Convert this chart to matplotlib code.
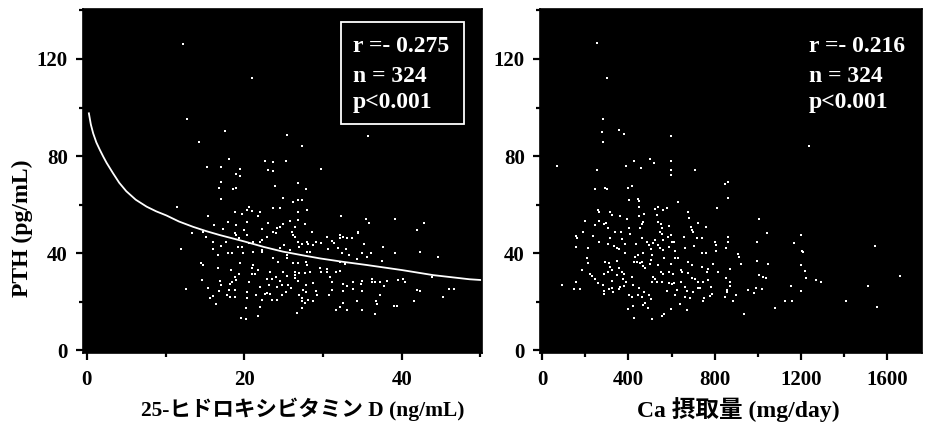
import numpy as np
import matplotlib.pyplot as plt
from matplotlib.patches import Rectangle
from matplotlib.ticker import MultipleLocator

plt.rcParams['font.family'] = ['Liberation Serif', 'Noto Sans CJK JP']
plt.rcParams['font.weight'] = 'bold'

# 25(OH)D (ng/mL) vs PTH (pg/mL)
vitd = [12.2, 21.0, 12.7, 17.5, 25.4, 14.3, 27.3, 18.0, 22.6, 23.6, 25.3, 15.2, 17.1, 19.4, 23.0, 23.7,
        19.0, 19.4, 35.7, 29.8, 17.1, 16.8, 18.5, 19.0, 26.8, 23.9, 27.8, 17.1, 24.9, 26.2, 26.8, 27.3,
        11.4, 20.6, 20.4, 21.0, 23.6, 24.5, 18.8, 22.0, 19.7, 27.9, 26.8, 15.4, 21.7, 26.8, 25.8, 17.9,
        20.4, 16.1, 19.0, 23.0, 24.9, 24.5, 24.1, 26.4, 27.7, 17.3, 22.2, 19.9, 26.0, 26.2, 26.4, 28.6,
        13.3, 14.7, 23.6, 24.0, 15.1, 18.8, 19.0, 20.4, 22.9, 19.3, 16.0, 17.7, 22.3, 22.0, 21.1, 20.6,
        26.8, 27.3, 27.0, 27.9, 28.1, 28.7, 29.1, 17.1, 19.2, 19.7, 24.5, 25.1, 22.3, 22.2, 16.0, 11.9,
        21.1, 25.8, 17.9, 18.4, 19.8, 25.4, 25.4, 27.9, 28.3, 16.6, 23.6, 26.2, 26.8, 27.8, 27.9, 19.4,
        21.1, 21.0, 14.5, 14.7, 24.3, 16.6, 21.7, 18.3, 23.2, 24.9, 28.4, 26.5, 26.5, 26.5, 27.0, 27.7,
        19.3, 21.0, 21.3, 18.8, 24.0, 25.4, 14.6, 20.6, 16.9, 18.4, 18.2, 19.0, 22.9, 23.5, 24.5, 26.8,
        28.7, 17.1, 22.0, 23.1, 24.1, 24.8, 25.5, 25.9, 27.8, 12.6, 15.4, 16.8, 18.0, 18.8, 27.4, 27.8,
        20.3, 25.3, 29.1, 22.9, 23.2, 22.6, 16.0, 17.8, 18.2, 18.8, 21.5, 24.8, 26.9, 27.3, 27.3, 29.2,
        15.6, 20.4, 22.2, 23.5, 24.1, 28.1, 28.7, 16.4, 22.0, 27.7, 27.3, 20.2, 26.7, 21.8, 19.6, 20.2,
        32.3, 35.4, 35.8, 39.2, 42.8, 41.9, 34.4, 34.5, 30.5, 32.1, 32.1, 32.6, 33.1, 33.7, 29.8, 31.1,
        31.4, 35.2, 37.6, 31.9, 32.9, 30.6, 42.3, 39.2, 32.4, 33.3, 35.0, 35.6, 36.1, 44.6, 34.3, 37.5,
        32.8, 32.1, 29.6, 30.5, 32.1, 31.7, 29.8, 30.5, 30.9, 43.9, 31.1, 34.9, 33.8, 36.2, 36.6, 36.2,
        37.3, 38.1, 39.5, 40.1, 40.4, 32.5, 33.0, 34.8, 37.8, 41.9, 42.3, 46.0, 46.6, 31.1, 32.5, 33.8,
        34.9, 30.7, 37.2, 45.2, 34.3, 36.7, 41.5, 32.5, 36.8, 39.0, 39.4, 32.1, 31.7, 33.0, 34.9, 36.6]
pth_vitd = [126.2, 112.2, 95.3, 90.3, 88.7, 85.8, 84.1, 78.8, 77.9, 77.5, 77.9, 75.5, 75.5, 74.6, 74.2, 73.8,
            72.6, 71.8, 88.2, 74.6, 69.3, 66.8, 66.4, 66.8, 68.9, 67.6, 66.4, 62.3, 62.7, 61.0, 61.9, 61.9,
            59.0, 59.0, 57.7, 57.3, 58.6, 58.6, 56.9, 56.9, 56.1, 57.7, 56.9, 55.3, 55.3, 53.6, 53.2, 52.8,
            52.8, 51.5, 51.5, 52.4, 52.0, 50.7, 50.3, 50.7, 52.0, 49.9, 49.9, 49.5, 48.7, 47.4, 46.6, 48.7,
            48.2, 48.7, 48.7, 48.2, 46.6, 48.2, 47.4, 47.4, 46.6, 46.2, 44.5, 44.5, 45.4, 44.5, 44.5, 44.1,
            44.5, 43.7, 42.5, 44.5, 43.7, 43.3, 44.5, 42.9, 42.5, 42.5, 42.1, 43.3, 41.2, 40.4, 41.6, 41.6,
            40.4, 41.2, 40.0, 40.0, 40.0, 39.2, 37.9, 40.4, 40.4, 39.2, 37.9, 35.9, 35.9, 36.3, 35.1, 35.9,
            35.1, 33.8, 35.9, 35.1, 36.3, 33.8, 33.0, 33.0, 32.2, 32.2, 32.2, 32.2, 30.9, 29.7, 31.8, 31.8,
            31.3, 31.3, 31.3, 30.1, 30.1, 30.5, 28.9, 28.0, 28.5, 28.0, 27.2, 28.9, 29.3, 29.3, 28.5, 28.5,
            27.6, 26.8, 26.0, 26.8, 26.0, 26.8, 26.8, 25.6, 26.8, 25.2, 25.6, 24.3, 24.7, 24.7, 24.7, 23.9,
            23.9, 23.9, 24.3, 23.5, 23.1, 23.1, 22.3, 22.7, 21.9, 21.9, 22.7, 22.7, 22.7, 21.4, 20.2, 22.7,
            21.4, 21.4, 20.6, 20.6, 20.6, 20.6, 20.2, 19.0, 17.7, 19.4, 17.3, 17.3, 15.3, 14.0, 13.2, 12.8,
            55.3, 54.0, 52.4, 54.0, 52.4, 49.5, 48.7, 48.2, 46.6, 47.4, 46.2, 46.6, 46.2, 46.2, 44.1, 44.9,
            44.1, 43.7, 42.5, 42.1, 41.6, 41.6, 40.4, 40.0, 40.0, 39.2, 40.0, 38.4, 40.0, 38.4, 37.5, 36.7,
            35.5, 36.3, 33.8, 33.4, 32.6, 32.2, 32.2, 32.2, 30.1, 30.1, 28.0, 28.5, 28.0, 29.3, 28.0, 28.0,
            28.0, 28.5, 28.9, 29.3, 28.0, 27.2, 26.4, 27.2, 26.4, 24.7, 24.3, 25.2, 25.2, 24.7, 24.3, 25.2,
            24.3, 22.7, 22.7, 21.9, 20.2, 20.2, 20.2, 19.4, 19.0, 18.1, 18.1, 17.7, 16.5, 16.5, 16.5, 14.8]

# fitted curve
fit_x = [0.25, 0.5, 0.8, 1.2, 1.65, 2.1, 2.5, 3.3, 4.1, 5.0, 6.2, 7.6, 8.8, 10.1, 11.7, 13.5, 15.2,
         16.9, 20.1, 22.5, 24.9, 27.2, 29.6, 32.5, 35.5, 40.0, 44.0, 48.6, 50.0]
fit_y = [97.6, 93.0, 89.3, 85.6, 82.5, 79.6, 77.2, 73.0, 69.0, 65.5, 62.0, 59.1, 57.2, 55.5, 53.0, 50.8, 49.0,
         47.4, 44.7, 42.5, 40.6, 39.2, 37.8, 36.4, 35.1, 33.0, 30.9, 29.2, 28.9]

# Ca intake (mg/day) vs PTH (pg/mL)
ca = [255, 301, 283, 278, 357, 380, 598, 283, 70, 255, 389, 427, 501, 519, 459, 598, 598, 598, 709, 1238,
      246, 292, 301, 399, 417, 848, 403, 445, 450, 630, 450, 524, 538, 561, 580, 811, 260, 264, 315, 325,
      362, 394, 450, 473, 533, 677, 682, 199, 264, 287, 297, 538, 552, 464, 468, 691, 695, 700, 723, 760,
      246, 306, 403, 454, 556, 589, 190, 338, 366, 408, 547, 556, 584, 598, 658, 719, 158, 162, 236, 315,
      371, 464, 487, 524, 515, 561, 603, 612, 663, 742, 802, 807, 158, 213, 264, 306, 334, 348, 357, 385,
      436, 496, 505, 538, 547, 561, 589, 617, 705, 742, 760, 807, 385, 431, 445, 468, 510, 566, 617, 630,
      209, 213, 292, 311, 348, 427, 440, 454, 464, 505, 501, 468, 477, 538, 598, 677, 695, 742, 793, 315,
      325, 357, 185, 371, 380, 770, 765, 816, 223, 232, 287, 306, 348, 552, 561, 589, 607, 644, 649, 677,
      246, 260, 325, 376, 389, 417, 515, 524, 533, 510, 556, 589, 603, 612, 644, 695, 709, 723, 746, 770,
      93, 158, 283, 362, 380, 422, 450, 663, 723, 732, 783, 148, 176, 311, 325, 329, 357, 287, 473, 580,
      626, 672, 700, 287, 403, 417, 445, 464, 496, 617, 663, 686, 788, 779, 505, 746, 751, 468, 477, 399,
      422, 491, 640, 598, 672, 566, 556, 427, 510,
      862, 862, 1006, 862, 1043, 862, 853, 1201, 997, 1168, 909, 913, 1205, 1210, 1544, 997, 923, 1048,
      1201, 872, 1219, 853, 1006, 1025, 1038, 1224, 1270, 1293, 1660, 872, 872, 1154, 1511, 858, 858, 955,
      992, 1020, 983, 1201, 848, 899, 885, 1127, 1159, 1409, 1080, 1553, 936]
pth_ca = [126.6, 112.2, 95.3, 89.9, 90.7, 89.1, 88.2, 85.8, 75.9, 74.2, 75.9, 77.9, 78.8, 77.1, 75.1, 77.9,
          74.2, 72.2, 74.2, 84.1,
          66.4, 66.8, 66.4, 66.8, 67.6, 68.5, 61.9, 62.3, 61.4, 61.0, 59.0, 58.1, 59.0, 57.7, 58.6, 58.6,
          57.7, 56.9, 56.9, 55.7, 55.3, 54.0, 55.3, 56.1, 55.7, 56.9, 54.4, 53.2, 53.2, 52.0, 52.4, 52.8,
          52.0, 52.0, 52.8, 50.7, 49.5, 48.7, 52.4, 50.7, 51.5, 50.3, 50.3, 50.3, 50.3, 51.1, 48.7, 48.7,
          48.7, 47.8, 48.7, 47.8, 46.6, 47.4, 46.6, 46.2, 47.0, 46.2, 47.0, 46.2, 45.8, 46.2, 44.5, 45.4,
          44.1, 45.4, 44.5, 44.5, 42.1, 46.2, 44.5, 43.3, 42.5, 42.1, 44.5, 43.7, 42.9, 42.1, 41.6, 43.7,
          43.7, 43.3, 41.6, 43.3, 42.1, 41.2, 42.5, 40.8, 42.9, 40.0, 40.0, 40.8, 40.0, 38.4, 39.2, 40.0,
          39.2, 37.9, 37.9, 37.9, 37.9, 35.9, 36.3, 35.9, 36.7, 36.3, 36.3, 35.9, 36.3, 37.1, 35.5, 34.6,
          33.8, 35.1, 35.5, 36.3, 35.1, 34.2, 35.5, 34.2, 33.0, 33.8, 33.0, 32.2, 31.3, 33.4, 32.2, 32.2,
          31.3, 30.5, 31.3, 32.2, 30.9, 32.2, 31.3, 32.2, 31.3, 33.0, 32.2, 31.8, 29.3, 27.6, 28.5, 29.3,
          28.0, 30.1, 30.1, 29.3, 28.0, 28.0, 28.0, 27.6, 27.2, 27.6, 28.0, 29.7, 29.3, 28.0, 28.0, 28.9,
          26.8, 28.0, 26.8, 26.0, 26.4, 26.8, 25.6, 26.0, 25.6, 25.6, 26.0, 25.2, 25.2, 25.2, 25.6, 23.9,
          25.2, 24.3, 23.9, 24.3, 24.7, 24.3, 23.9, 23.1, 22.7, 21.9, 22.7, 21.9, 22.7, 22.7, 21.9, 21.4,
          23.1, 22.3, 21.0, 20.2, 21.4, 18.6, 19.4, 16.9, 18.1, 17.3, 19.0, 16.9, 16.5, 14.8, 14.0, 13.2,
          12.8,
          69.3, 62.7, 54.0, 46.6, 48.2, 44.5, 42.1, 47.4, 44.5, 44.1, 39.6, 38.4, 40.8, 40.4, 42.9, 36.7,
          35.5, 35.5, 35.1, 33.4, 32.6, 29.7, 30.9, 30.1, 29.7, 29.7, 28.9, 28.0, 30.5, 28.0, 26.4, 26.4,
          26.4, 24.7, 23.9, 24.7, 25.6, 25.2, 23.5, 24.3, 21.9, 22.7, 20.2, 20.2, 20.2, 20.2, 17.3, 17.7,
          14.8]

stats_left = ['r =- 0.275', 'n = 324', 'p<0.001']
stats_right = ['r =- 0.216', 'n = 324', 'p<0.001']

fig = plt.figure(figsize=(9.25, 4.25), dpi=100)
ax1 = fig.add_axes([0.0897, 0.1694, 0.4314, 0.8094])
ax2 = fig.add_axes([0.5838, 0.1694, 0.4130, 0.8094])

for ax in (ax1, ax2):
    ax.set_facecolor('black')
    for s in ax.spines.values():
        s.set_color('black')
        s.set_linewidth(1.2)
    ax.tick_params(which='major', direction='out', length=5, width=1.6, labelsize=15)
    ax.tick_params(axis='x', which='major', pad=7)
    ax.tick_params(axis='y', which='major', pad=6)
    ax.tick_params(which='minor', direction='out', length=3, width=1.6)
    ax.set_ylim(-1.2, 140.6)
    ax.yaxis.set_major_locator(MultipleLocator(40))
    ax.yaxis.set_minor_locator(MultipleLocator(20))

# left panel
ax1.scatter(vitd, pth_vitd, s=4, marker='s', color='white', linewidths=0)
ax1.plot(fit_x, fit_y, color='white', lw=1.3)
ax1.set_xlim(-0.5, 50.2)
ax1.xaxis.set_major_locator(MultipleLocator(20))
ax1.xaxis.set_minor_locator(MultipleLocator(10))
ax1.set_xlabel('25-ヒドロキシビタミン D (ng/mL)', fontsize=15.5, fontweight='bold', va='center')
ax1.xaxis.set_label_coords(0.55, -0.163)
ax1.set_ylabel('PTH (pg/mL)', fontsize=17, fontweight='bold', va='center')
ax1.yaxis.set_label_coords(-0.153, 0.363)
ax1.add_patch(Rectangle((0.646, 0.666), 0.309, 0.297, transform=ax1.transAxes,
                        fill=False, edgecolor='white', lw=1.3))
for txt, yy in zip(stats_left, [0.890, 0.805, 0.727]):
    ax1.text(0.677, yy, txt, transform=ax1.transAxes, color='white', fontsize=17,
             fontweight='bold', va='center', ha='left')

# right panel
ax2.scatter(ca, pth_ca, s=4, marker='s', color='white', linewidths=0)
ax2.set_xlim(-9, 1760)
ax2.xaxis.set_major_locator(MultipleLocator(400))
ax2.xaxis.set_minor_locator(MultipleLocator(200))
ax2.set_xlabel('Ca 摂取量 (mg/day)', fontsize=17, fontweight='bold', va='center')
ax2.xaxis.set_label_coords(0.52, -0.163)
for txt, yy in zip(stats_right, [0.890, 0.805, 0.727]):
    ax2.text(0.703, yy, txt, transform=ax2.transAxes, color='white', fontsize=17,
             fontweight='bold', va='center', ha='left')

for ax in (ax1, ax2):
    for lab in ax.get_xticklabels() + ax.get_yticklabels():
        lab.set_fontweight('bold')

fig.savefig('out.png', dpi=100)
